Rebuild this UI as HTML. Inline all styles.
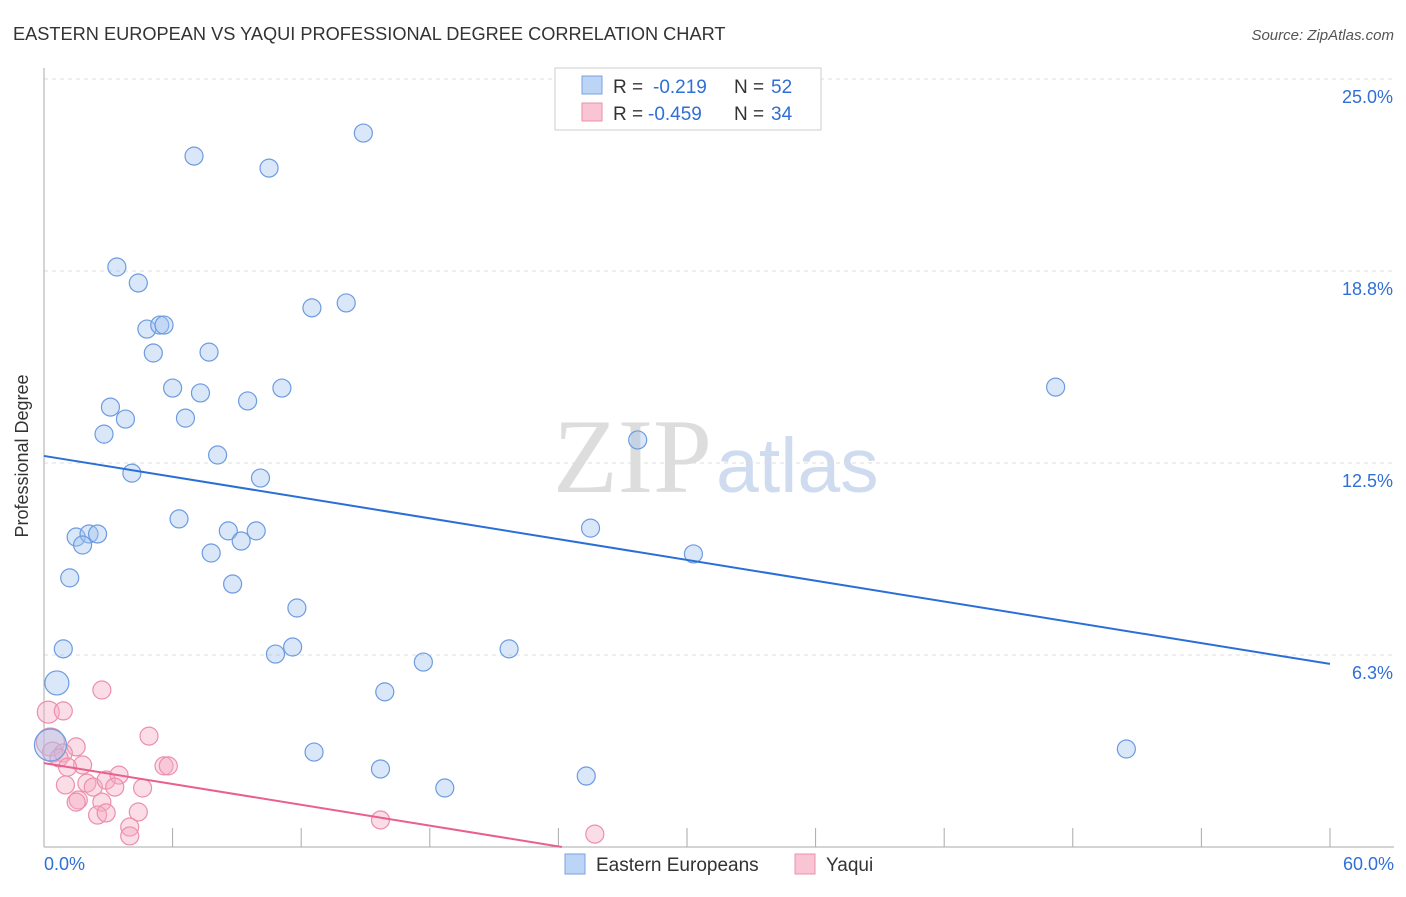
<!DOCTYPE html>
<html><head><meta charset="utf-8"><style>
body{margin:0;background:#fff;font-family:"Liberation Sans",sans-serif;}
svg text{font-family:"Liberation Sans",sans-serif;}
</style></head><body>
<svg width="1406" height="892">
<text x="13" y="40" font-size="18.2" fill="#333">EASTERN EUROPEAN VS YAQUI PROFESSIONAL DEGREE CORRELATION CHART</text>
<text x="1394" y="40" font-size="15" fill="#555" text-anchor="end" font-style="italic">Source: ZipAtlas.com</text>
<text x="28" y="456" font-size="18" fill="#333" transform="rotate(-90 28 456)" text-anchor="middle">Professional Degree</text>
<text x="553" y="492" font-size="106" fill="#ddd" font-family="Liberation Serif" style="font-family:'Liberation Serif',serif">ZIP</text>
<text x="716" y="492" font-size="77" fill="#cfdcf0">atlas</text>
<g id="grid"></g><g id="axes"></g><g id="pts"></g><g id="trend"></g>
<g>
<rect x="555" y="68" width="266" height="62" fill="#fff" stroke="#ccc"/>
<rect x="582" y="76" width="20" height="18" fill="#bcd4f5" stroke="#7aa3e0"/>
<text x="613" y="93" font-size="19" fill="#333">R =</text>
<text x="653" y="93" font-size="19" fill="#2f6fd6">-0.219</text>
<text x="734" y="93" font-size="19" fill="#333">N =</text>
<text x="771" y="93" font-size="19" fill="#2f6fd6">52</text>
<rect x="582" y="103" width="20" height="18" fill="#f9c5d4" stroke="#ec8fab"/>
<text x="613" y="120" font-size="19" fill="#333">R =</text>
<text x="648" y="120" font-size="19" fill="#2f6fd6">-0.459</text>
<text x="734" y="120" font-size="19" fill="#333">N =</text>
<text x="771" y="120" font-size="19" fill="#2f6fd6">34</text>
</g>
<g>
<rect x="565" y="854" width="20" height="20" fill="#bcd4f5" stroke="#7aa3e0"/>
<text x="596" y="871" font-size="19" fill="#333">Eastern Europeans</text>
<rect x="795" y="854" width="20" height="20" fill="#f9c5d4" stroke="#ec8fab"/>
<text x="826" y="871" font-size="19" fill="#333">Yaqui</text>
</g>
</svg>
<script>
const yTicks=[6.3,12.5,18.8,25.0];
const yTickVals=[6.25,12.5,18.75,25];
const xTickLabels=["0.0%","60.0%"];
const blueX=[14.9,7,10.5,3.4,4.4,14.1,12.5,4.8,5.4,5.6,5.1,7.7,6,11.1,7.3,9.5,3.1,3.8,6.6,2.8,27.7,8.1,4.1,10.1,47.2,6.3,25.5,8.6,9.9,9.2,1.5,2.1,2.5,1.8,7.8,30.3,1.2,8.8,11.8,0.9,10.8,11.6,17.7,21.7,0.6,15.9,12.6,50.5,15.7,25.3,18.7,0.3];
const blueY=[23.24,22.49,22.1,18.88,18.36,17.71,17.55,16.86,16.99,16.99,16.08,16.11,14.94,14.94,14.78,14.52,14.32,13.93,13.96,13.44,13.25,12.76,12.17,12.01,14.97,10.68,10.38,10.29,10.29,9.96,10.09,10.19,10.19,9.83,9.57,9.54,8.76,8.56,7.78,6.45,6.28,6.51,6.02,6.45,5.34,5.05,3.09,3.19,2.54,2.31,1.92,3.32];
const blueR=[9,9,9,9,9,9,9,9,9,9,9,9,9,9,9,9,9,9,9,9,9,9,9,9,9,9,9,9,9,9,9,9,9,9,9,9,9,9,9,9,9,9,9,9,12,9,9,9,9,9,9,16];
const pinkX=[2.7,0.2,0.9,4.9,0.3,0.4,1.5,0.9,1.8,1,2,2.3,2.9,3.5,3.3,4.6,5.6,5.8,1.6,1.5,2.7,2.5,2.9,4.4,4,4,15.7,25.7,0.7,1.1];
const pinkY=[5.11,4.39,4.43,3.61,3.42,3.09,3.26,3.06,2.67,2.02,2.08,1.95,2.18,2.34,1.95,1.92,2.64,2.64,1.53,1.46,1.46,1.04,1.11,1.14,0.65,0.36,0.88,0.42,2.9,2.6];
const pinkR=[9,11,9,9,14,10,9,9,9,9,9,9,9,9,9,9,9,9,9,9,9,9,9,9,9,9,9,9,9,9];
const blueTrend=[12.73,5.96];
const pinkTrend=[2.73,-0.113];
const X=v=>44+v*21.433, Y=v=>847-v*30.72;
const NS="http://www.w3.org/2000/svg";
function mk(t,a,p){const e=document.createElementNS(NS,t);for(const k in a)e.setAttribute(k,a[k]);p.appendChild(e);return e;}
const g=document.getElementById('grid');
yTickVals.forEach((v,i)=>{
 const l=mk('line',{x1:44,x2:1394,y1:Y(v),y2:Y(v),stroke:'#ddd','stroke-dasharray':'4,4'},g);
 
 
 const t=mk('text',{x:1393,y:Y(v)+24,'text-anchor':'end','font-size':18,fill:'#2f6fd6'},g);t.textContent=yTicks[i].toFixed(1)+'%';
 
 
});
const a=document.getElementById('axes');
mk('line',{x1:44,x2:44,y1:68,y2:847,stroke:'#aaa'},a);
mk('line',{x1:44,x2:1394,y1:847,y2:847,stroke:'#aaa'},a);
for(let i=0;i<=10;i++){const x=X(i*6);mk('line',{x1:x,x2:x,y1:828,y2:847,stroke:'#aaa'},a);}
[[0,'start',44],[1,'end',1394]].forEach(([i,an,x])=>{const t=mk('text',{x:x,y:870,'text-anchor':an,'font-size':18,fill:'#2f6fd6'},a);t.textContent=xTickLabels[i];
 
 });
const p=document.getElementById('pts');
pinkX.forEach((v,i)=>{const c=mk('circle',{cx:X(v),cy:Y(pinkY[i]),r:pinkR[i],fill:'rgba(246,170,195,0.4)',stroke:'#ec8fab','stroke-width':1.2},p);
 
 });
blueX.forEach((v,i)=>{const c=mk('circle',{cx:X(v),cy:Y(blueY[i]),r:blueR[i],fill:'rgba(160,195,240,0.4)',stroke:'#6d9be0','stroke-width':1.2},p);
 
 });
const tr=document.getElementById('trend');
const bl=mk('line',{x1:X(0),y1:Y(blueTrend[0]),x2:X(60),y2:Y(blueTrend[1]),stroke:'#2a6fd6','stroke-width':2},tr);


const xe=-pinkTrend[0]/pinkTrend[1];
const pl=mk('line',{x1:X(0),y1:Y(pinkTrend[0]),x2:X(xe),y2:Y(0),stroke:'#e8608d','stroke-width':2},tr);


</script>
</body></html>
